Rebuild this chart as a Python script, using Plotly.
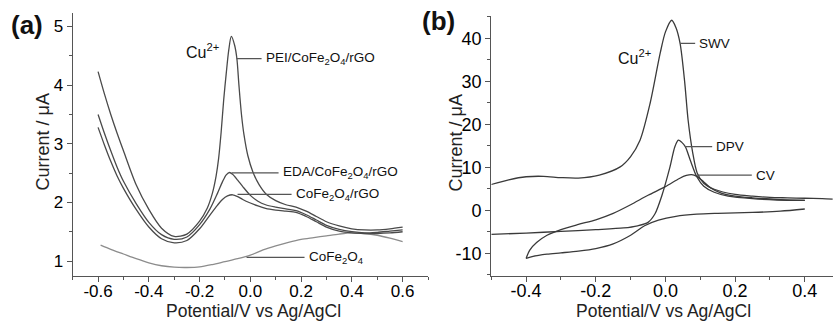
import plotly.graph_objects as go

W, H = 833, 321
FONT = "Arial, Liberation Sans, sans-serif"

# ---------------- Panel (a) data ----------------
x_pei = [-0.60, -0.575, -0.55, -0.525, -0.50, -0.45, -0.40, -0.35, -0.30, -0.25, -0.20, -0.17,
         -0.15, -0.135, -0.125, -0.115, -0.105, -0.095, -0.085, -0.075, -0.062, -0.053, -0.045,
         -0.035, -0.025, -0.01, 0.01, 0.035, 0.065, 0.10, 0.14, 0.18, 0.22, 0.26, 0.30, 0.35,
         0.40, 0.45, 0.50, 0.55, 0.60]
y_pei = [4.23, 3.85, 3.50, 3.18, 2.88, 2.30, 1.88, 1.56, 1.42, 1.46, 1.68, 1.90,
         2.15, 2.45, 2.75, 3.20, 3.75, 4.20, 4.60, 4.83, 4.68, 4.45, 4.00,
         3.50, 3.15, 2.80, 2.52, 2.30, 2.13, 2.03, 1.96, 1.92, 1.85, 1.76, 1.67, 1.60,
         1.55, 1.53, 1.53, 1.55, 1.58]

x_eda = [-0.60, -0.575, -0.55, -0.525, -0.50, -0.45, -0.40, -0.35, -0.30, -0.25, -0.20, -0.16,
         -0.13, -0.11, -0.095, -0.082, -0.07, -0.05, -0.03, 0.0, 0.03, 0.06, 0.10, 0.14, 0.18,
         0.22, 0.26, 0.30, 0.35, 0.40, 0.45, 0.50, 0.55, 0.60]
y_eda = [3.50, 3.18, 2.88, 2.60, 2.36, 1.98, 1.66, 1.45, 1.37, 1.41, 1.62, 1.88,
         2.15, 2.35, 2.47, 2.51, 2.48, 2.38, 2.27, 2.12, 2.02, 1.96, 1.92, 1.89, 1.86,
         1.79, 1.70, 1.61, 1.54, 1.50, 1.48, 1.49, 1.51, 1.53]

x_cfr = [-0.60, -0.575, -0.55, -0.525, -0.50, -0.45, -0.40, -0.35, -0.30, -0.25, -0.20, -0.16,
         -0.13, -0.11, -0.09, -0.07, -0.05, -0.03, 0.0, 0.03, 0.06, 0.10, 0.14, 0.18,
         0.22, 0.26, 0.30, 0.35, 0.40, 0.45, 0.50, 0.55, 0.60]
y_cfr = [3.28, 2.98, 2.70, 2.45, 2.24, 1.88, 1.58, 1.38, 1.31, 1.35, 1.55, 1.78,
         1.95, 2.05, 2.11, 2.13, 2.10, 2.05, 1.99, 1.94, 1.90, 1.87, 1.85, 1.83,
         1.76, 1.67, 1.58, 1.51, 1.48, 1.47, 1.47, 1.48, 1.50]

x_cf = [-0.59, -0.55, -0.50, -0.45, -0.40, -0.35, -0.30, -0.25, -0.20, -0.15, -0.10, -0.05,
        0.0, 0.05, 0.10, 0.15, 0.20, 0.25, 0.30, 0.35, 0.40, 0.45, 0.50, 0.55, 0.60]
y_cf = [1.27, 1.20, 1.12, 1.04, 0.97, 0.92, 0.895, 0.89, 0.90, 0.94, 0.99, 1.04,
        1.10, 1.19, 1.26, 1.32, 1.37, 1.40, 1.43, 1.46, 1.48, 1.47, 1.44, 1.39, 1.33]

# ---------------- Panel (b) data ----------------
x_swv = [-0.50, -0.45, -0.40, -0.35, -0.30, -0.25, -0.19, -0.13, -0.10, -0.073, -0.044, -0.015,
         0.0, 0.018, 0.03, 0.042, 0.055, 0.065, 0.078, 0.091, 0.11, 0.14, 0.20, 0.25, 0.30,
         0.35, 0.40, 0.45, 0.48]
y_swv = [6.0, 7.1, 7.8, 7.9, 7.6, 7.5, 8.2, 10.1, 12.5, 16.3, 24.9, 36.6,
         41.5, 44.2, 42.5, 38.8, 30.0, 21.0, 13.5, 8.7, 6.3, 4.9, 3.7, 3.3, 3.0,
         2.9, 2.8, 2.7, 2.6]

x_dpv = [-0.50, -0.40, -0.30, -0.20, -0.12, -0.08, -0.05, -0.03, -0.01, 0.013, 0.027, 0.037,
         0.047, 0.057, 0.071, 0.09, 0.11, 0.14, 0.18, 0.25, 0.32, 0.40]
y_dpv = [-5.6, -5.3, -4.9, -4.5, -4.1, -3.6, -2.8, -0.8, 3.5, 10.1, 14.8, 16.3,
         15.8, 14.8, 11.7, 7.8, 5.6, 4.2, 3.3, 2.7, 2.4, 2.3]

# CV: return (upper) branch from +0.4 to -0.4, forward (lower) branch from -0.4 to +0.4
x_cv_up = [0.40, 0.33, 0.25, 0.20, 0.16, 0.13, 0.11, 0.09, 0.075, 0.06, 0.04, 0.0, -0.05,
           -0.10, -0.15, -0.20, -0.25, -0.30, -0.34, -0.37, -0.39, -0.40]
y_cv_up = [2.3, 2.5, 2.9, 3.3, 4.0, 5.2, 6.6, 7.9, 8.3, 8.1, 7.4, 5.5, 3.5,
           1.3, -0.7, -2.2, -3.3, -4.5, -5.8, -7.5, -9.3, -11.2]
x_cv_dn = [-0.40, -0.38, -0.34, -0.30, -0.25, -0.20, -0.15, -0.10, -0.06, -0.02, 0.03, 0.09,
           0.15, 0.25, 0.33, 0.40]
y_cv_dn = [-11.2, -10.7, -10.2, -9.9, -9.5, -8.9, -7.8, -5.8, -3.6, -2.3, -1.4, -0.9,
           -0.7, -0.5, -0.2, 0.3]

# ---------------- Tick labels ----------------
xa_vals = [-0.6, -0.4, -0.2, 0.0, 0.2, 0.4, 0.6]
xa_text = ["-0.6", "-0.4", "-0.2", "0.0", "0.2", "0.4", "0.6"]
xa_minor = [-0.7, -0.5, -0.3, -0.1, 0.1, 0.3, 0.5, 0.7]
ya_vals = [1, 2, 3, 4, 5]
ya_text = ["1", "2", "3", "4", "5"]
ya_minor = [1.5, 2.5, 3.5, 4.5]

xb_vals = [-0.4, -0.2, 0.0, 0.2, 0.4]
xb_text = ["-0.4", "-0.2", "0.0", "0.2", "0.4"]
xb_minor = [-0.5, -0.3, -0.1, 0.1, 0.3]
yb_vals = [-10, 0, 10, 20, 30, 40]
yb_text = ["-10", "0", "10", "20", "30", "40"]
yb_minor = [-15, -5, 5, 15, 25, 35, 45]

DARK = "#4a4a4a"
LIGHT = "#8c8c8c"
BDARK = "#3a3a3a"
LW = 1.3

fig = go.Figure()

def add(x, y, color, xa="x", ya="y"):
    fig.add_trace(go.Scatter(x=x, y=y, mode="lines", xaxis=xa, yaxis=ya,
                             line=dict(color=color, width=LW, shape="spline", smoothing=0.8),
                             hoverinfo="skip"))

add(x_cf, y_cf, LIGHT)
add(x_cfr, y_cfr, DARK)
add(x_eda, y_eda, DARK)
add(x_pei, y_pei, DARK)

add(x_swv, y_swv, BDARK, "x2", "y2")
add(x_dpv, y_dpv, BDARK, "x2", "y2")
add(x_cv_up, y_cv_up, BDARK, "x2", "y2")
add(x_cv_dn, y_cv_dn, BDARK, "x2", "y2")

axis_common = dict(showline=True, linecolor="#555", linewidth=1.3, showgrid=False,
                   zeroline=False, ticks="outside", ticklen=5, tickwidth=1.2,
                   tickcolor="#555", automargin=False, tickmode="array")

fig.update_layout(
    width=W, height=H, margin=dict(l=0, r=0, t=0, b=0),
    paper_bgcolor="white", plot_bgcolor="white", showlegend=False,
    font=dict(family=FONT, color="#111"),
    xaxis=dict(axis_common, domain=[72.7 / W, 428 / W], range=[-0.7, 0.7], anchor="y",
               tickvals=xa_vals, ticktext=xa_text, tickfont=dict(size=17, color="#000"),
               ticklabelstandoff=-6,
               minor=dict(tickmode="array", tickvals=xa_minor, ticks="outside", ticklen=3,
                          tickcolor="#555")),
    yaxis=dict(axis_common, domain=[45 / H, 308 / H], range=[0.745, 5.23], anchor="x",
               tickvals=ya_vals, ticktext=ya_text, tickfont=dict(size=17, color="#000"),
               minor=dict(tickmode="array", tickvals=ya_minor, ticks="outside", ticklen=3,
                          tickcolor="#555")),
    xaxis2=dict(axis_common, domain=[491.3 / W, 1.0], range=[-0.5, 0.481], anchor="y2",
                tickvals=xb_vals, ticktext=xb_text, tickfont=dict(size=18, color="#000"),
                ticklabelstandoff=-7,
                minor=dict(tickmode="array", tickvals=xb_minor, ticks="outside", ticklen=3,
                           tickcolor="#555")),
    yaxis2=dict(axis_common, domain=[45 / H, 305 / H], range=[-15.28, 45.19], anchor="x2",
                tickvals=yb_vals, ticktext=yb_text, tickfont=dict(size=18, color="#000"),
                minor=dict(tickmode="array", tickvals=yb_minor, ticks="outside", ticklen=3,
                           tickcolor="#555")),
)

ann = []
# panel letters
ann.append(dict(text="<b>(a)</b>", x=27 / W, y=1 - 25 / H, xref="paper", yref="paper",
                showarrow=False, font=dict(size=26, color="#111"), xanchor="center", yanchor="middle"))
ann.append(dict(text="<b>(b)</b>", x=438 / W, y=1 - 21 / H, xref="paper", yref="paper",
                showarrow=False, font=dict(size=26, color="#111"), xanchor="center", yanchor="middle"))
# axis titles
for cx in (42, 455):
    ann.append(dict(text="Current / μA", x=cx / W, y=1 - 142.5 / H, xref="paper", yref="paper",
                    showarrow=False, textangle=-90, font=dict(size=18, color="#222"),
                    xanchor="center", yanchor="middle"))
for cx in (254, 663):
    ann.append(dict(text="Potential/V vs Ag/AgCl", x=cx / W, y=1 - 310.5 / H, xref="paper",
                    yref="paper", showarrow=False, font=dict(size=17.5, color="#222"),
                    xanchor="center", yanchor="middle"))

# Cu2+ labels
ann.append(dict(text="Cu<sup>2+</sup>", x=-0.188, y=4.59, xref="x", yref="y", showarrow=False,
                font=dict(size=16, color="#111"), xanchor="center", yanchor="middle"))
ann.append(dict(text="Cu<sup>2+</sup>", x=-0.088, y=35.6, xref="x2", yref="y2", showarrow=False,
                font=dict(size=16, color="#111"), xanchor="center", yanchor="middle"))

# leader-line labels
def lab(text, x, y, ax, xr, yr):
    ann.append(dict(text=text, x=x, y=y, xref=xr, yref=yr, showarrow=True, arrowhead=0,
                    arrowwidth=1.2, arrowcolor="#555", ax=ax, ay=0, xanchor="left",
                    yanchor="middle", borderpad=3, font=dict(size=13.5, color="#111")))

lab("PEI/CoFe<sub>2</sub>O<sub>4</sub>/rGO", -0.0543, 4.453, 25, "x", "y")
lab("EDA/CoFe<sub>2</sub>O<sub>4</sub>/rGO", -0.074, 2.504, 47, "x", "y")
lab("CoFe<sub>2</sub>O<sub>4</sub>/rGO", -0.0504, 2.136, 54, "x", "y")
lab("CoFe<sub>2</sub>O<sub>4</sub>", -0.015, 1.063, 58, "x", "y")
lab("SWV", 0.0422, 38.8, 15, "x2", "y2")
lab("DPV", 0.0566, 14.8, 27, "x2", "y2")
lab("CV", 0.090, 8.2, 55, "x2", "y2")

fig.update_layout(annotations=ann)
fig.write_html("out.html")
